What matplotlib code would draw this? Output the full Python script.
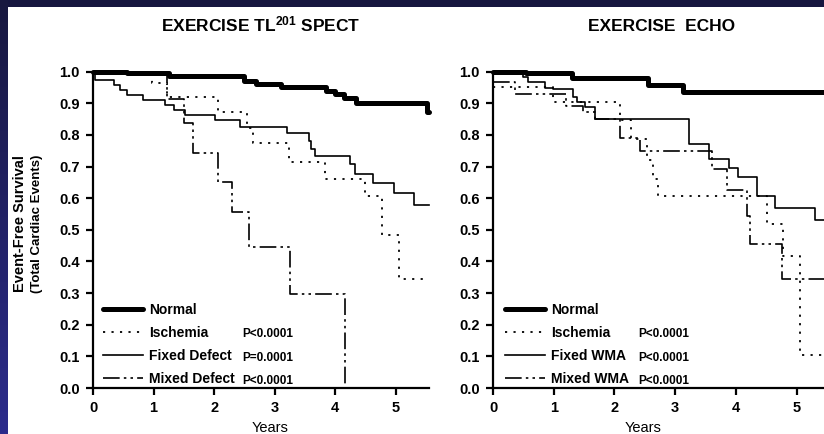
import numpy as np
import matplotlib
matplotlib.use("Agg")
import matplotlib.pyplot as plt
from matplotlib.lines import Line2D
from matplotlib.colors import LinearSegmentedColormap

plt.rcParams['font.family'] = ['Liberation Sans', 'DejaVu Sans']
plt.rcParams['font.weight'] = 'bold'
plt.rcParams['mathtext.fontset'] = 'custom'
plt.rcParams['mathtext.bf'] = 'Liberation Sans:bold'
plt.rcParams['mathtext.rm'] = 'Liberation Sans:bold'
plt.rcParams['mathtext.default'] = 'bf'

# --- Exercise TL201 SPECT (years, event-free survival) ---
spect_normal_t = [0, 0.56, 1.25, 2.5, 2.7, 3.1, 3.85, 4.0, 4.15, 4.35, 5.51, 5.55]
spect_normal_s = [1.0, 0.995, 0.985, 0.972, 0.962, 0.952, 0.94, 0.928, 0.918, 0.90, 0.873, 0.873]

spect_isch_t = [0, 0.97, 1.22, 2.07, 2.54, 2.64, 3.23, 3.83, 4.50, 4.77, 5.06, 5.49]
spect_isch_s = [1.0, 0.963, 0.921, 0.873, 0.821, 0.774, 0.715, 0.660, 0.607, 0.484, 0.345, 0.345]

spect_fixed_t = [0, 0.03, 0.34, 0.45, 0.56, 0.83, 1.19, 1.33, 1.52, 2.02, 2.43, 3.20,
                 3.56, 3.60, 3.66, 4.25, 4.33, 4.63, 4.98, 5.30, 5.55]
spect_fixed_s = [1.0, 0.974, 0.958, 0.942, 0.926, 0.910, 0.895, 0.879, 0.863, 0.847, 0.826, 0.807,
                 0.78, 0.757, 0.733, 0.707, 0.678, 0.647, 0.615, 0.578, 0.578]

spect_mixed_t = [0, 1.22, 1.51, 1.66, 2.07, 2.29, 2.57, 3.25, 4.17]
spect_mixed_s = [1.0, 0.915, 0.837, 0.742, 0.650, 0.558, 0.445, 0.298, 0.0]

# --- Exercise echo ---
echo_normal_t = [0, 0.55, 1.30, 2.55, 3.13, 5.55]
echo_normal_s = [1.0, 0.995, 0.979, 0.958, 0.935, 0.935]

echo_isch_t = [0, 0.99, 2.09, 2.28, 2.54, 2.64, 2.71, 4.51, 4.78, 5.06, 5.55]
echo_isch_s = [0.953, 0.905, 0.847, 0.787, 0.72, 0.66, 0.607, 0.517, 0.417, 0.103, 0.103]

echo_fixed_t = [0, 0.49, 0.58, 0.86, 0.99, 1.32, 1.38, 1.52, 1.68, 3.23, 3.55, 3.89,
                4.04, 4.34, 4.65, 5.30, 5.55]
echo_fixed_s = [1.0, 0.984, 0.966, 0.95, 0.944, 0.921, 0.905, 0.889, 0.849, 0.773, 0.725, 0.696,
                0.667, 0.607, 0.568, 0.53, 0.53]

echo_mixed_t = [0, 0.36, 1.21, 1.49, 1.68, 2.09, 2.42, 3.60, 3.86, 4.18, 4.23, 4.76, 5.55]
echo_mixed_s = [0.966, 0.93, 0.89, 0.872, 0.851, 0.79, 0.749, 0.691, 0.626, 0.544, 0.454, 0.344, 0.344]

spect_labels = ['Normal', 'Ischemia', 'Fixed Defect', 'Mixed Defect']
spect_pvals = ['P<0.0001', 'P=0.0001', 'P<0.0001']
echo_labels = ['Normal', 'Ischemia', 'Fixed WMA', 'Mixed WMA']
echo_pvals = ['P<0.0001', 'P<0.0001', 'P<0.0001']

yticks = np.arange(0, 1.01, 0.1)
xticks = [0, 1, 2, 3, 4, 5]

styles = [
    dict(lw=3.6, ls='-', solid_capstyle='round'),
    dict(lw=1.3, ls=(0, (1.2, 3.5))),
    dict(lw=1.2, ls='-'),
    dict(lw=1.2, ls=(0, (10, 2.5, 1.5, 2.5, 1.5, 2.5))),
]

W, H = 824, 434
fig = plt.figure(figsize=(W / 100, H / 100), dpi=100)
fig.patch.set_facecolor('white')

# dark blue slide border (top bar and left gradient bar)
top = fig.add_axes([0, 1 - 7 / H, 1, 7 / H])
top.set_axis_off()
top.add_patch(plt.Rectangle((0, 0), 1, 1, color='#16163f', transform=top.transAxes))
side = fig.add_axes([0, 0, 7.5 / W, 1])
grad = np.linspace(0, 1, 256).reshape(-1, 1)
cmap = LinearSegmentedColormap.from_list('bar', ['#18183f', '#2c2c8c'])
side.imshow(grad, aspect='auto', cmap=cmap, extent=[0, 1, 0, 1])
side.set_axis_off()


def panel(rect, curves, labels, pvals, title, xlab_x, pval_x, leg_x):
    ax = fig.add_axes(rect)
    for (t, s), st in zip(curves, styles):
        ax.step(t, s, where='post', color='black', clip_on=False, **st)
    ax.set_xlim(0, 5.55)
    ax.set_ylim(0, 1.0)
    ax.set_xticks(xticks)
    ax.set_yticks(yticks)
    ax.set_yticklabels(['%.1f' % v for v in yticks])
    for side_name in ['top', 'right']:
        ax.spines[side_name].set_visible(False)
    for side_name in ['left', 'bottom']:
        ax.spines[side_name].set_linewidth(1.6)
    ax.tick_params(direction='out', length=5, width=1.6, labelsize=10.5, pad=4.5)
    ax.set_xlabel('Years', fontsize=10.5, fontweight='normal')
    ax.xaxis.set_label_coords(xlab_x, -0.105)
    ax.set_title(title, fontsize=12.5, fontweight='bold', pad=29)

    handles = [Line2D([], [], color='black', **st) for st in styles]
    ax.legend(handles, labels, loc='upper left', bbox_to_anchor=(leg_x, 0.27),
              frameon=False, fontsize=10, handlelength=2.9, handletextpad=0.4,
              labelspacing=0.66, borderpad=0, borderaxespad=0)
    for pv, y in zip(pvals, [0.170, 0.096, 0.022]):
        ax.text(pval_x, y, pv, transform=ax.transAxes, fontsize=8.5,
                va='center', ha='left')
    return ax


ax1 = panel([93 / W, 46 / H, 336 / W, 316.3 / H],
            [(spect_normal_t, spect_normal_s), (spect_isch_t, spect_isch_s),
             (spect_fixed_t, spect_fixed_s), (spect_mixed_t, spect_mixed_s)],
            spect_labels, spect_pvals, r'EXERCISE TL$^{201}$ SPECT',
            0.527, 0.443, 0.03)
ax2 = panel([493 / W, 46 / H, 337 / W, 316.3 / H],
            [(echo_normal_t, echo_normal_s), (echo_isch_t, echo_isch_s),
             (echo_fixed_t, echo_fixed_s), (echo_mixed_t, echo_mixed_s)],
            echo_labels, echo_pvals, 'EXERCISE  ECHO',
            0.445, 0.43, 0.036)

fig.text(20 / W, 0.484, 'Event-Free Survival', rotation=90, fontsize=10.5,
         ha='center', va='center')
fig.text(37 / W, 0.484, '(Total Cardiac Events)', rotation=90, fontsize=9.5,
         ha='center', va='center')

fig.savefig('out.png', dpi=100)
